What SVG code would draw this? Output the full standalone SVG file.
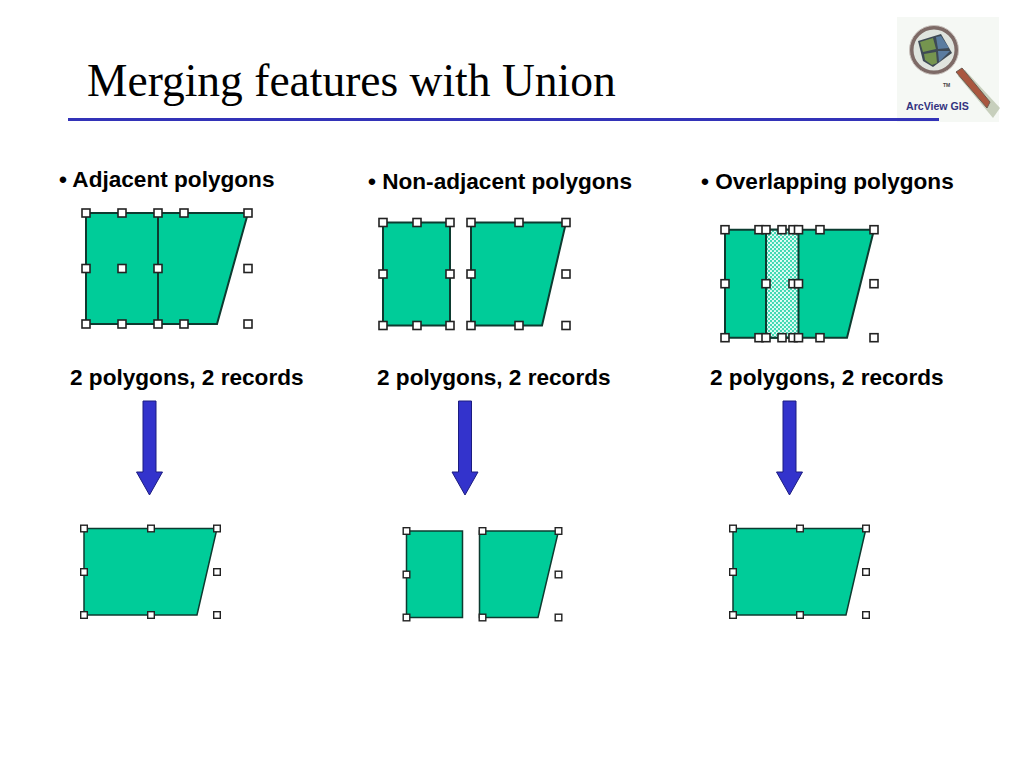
<svg xmlns="http://www.w3.org/2000/svg" width="1024" height="768" viewBox="0 0 1024 768">
<style>
.title{font:45.5px "Liberation Serif","Times New Roman",serif;fill:#000}
.lbl{font:bold 22.6px "Liberation Sans",Arial,sans-serif;fill:#000}
.poly{fill:#00cc99;stroke:#0d3b30;stroke-width:2;stroke-linejoin:miter}
.polyb{fill:#00cc99;stroke:#0d3b30;stroke-width:1.5}
.arrow{fill:#3333cc;stroke:#1c1c80;stroke-width:1}
.h{fill:#fff;stroke:#222;stroke-width:1.6}
.hs{fill:#fff;stroke:#222;stroke-width:1.4}
</style>
<defs>
<rect id="H" class="h" x="-4" y="-4" width="8" height="8"/>
<rect id="S" class="hs" x="-3.300" y="-3.300" width="6.600" height="6.600"/>
<pattern id="dots" width="4" height="4" patternUnits="userSpaceOnUse">
<rect width="4" height="4" fill="#40d9b3"/>
<circle cx="1" cy="1" r="1.100" fill="#f0fffa"/>
<circle cx="3" cy="3" r="1.100" fill="#f0fffa"/>
</pattern>
<path id="A" class="arrow" d="M-6.500 0H6.500V71H13L0 94L-13 71H-6.500Z"/>
</defs>
<g id="logo">
<rect x="897" y="17" width="102" height="105" fill="#f5f8f4"/>
<path d="M958 76L965 70L1000 108L993 118Z" fill="#b4bda4" opacity=".7"/>
<path d="M956 72L962 68L990 102L987 108Z" fill="#a9573f" stroke="#6d5a50" stroke-width="1"/>
<circle cx="934" cy="50" r="23" fill="#dfe4de"/>
<path d="M918 41L941 34L952 53L933 67L923 61Z" fill="#3e4a55"/>
<path d="M920 42L933 38L936 49L923 52Z" fill="#75954f"/>
<path d="M936 37L941 36L949 48L938 49Z" fill="#5a7ca0"/>
<path d="M924 54L936 52L937 63L932 65L925 60Z" fill="#75954f"/>
<path d="M938 51L950 51L939 62Z" fill="#5a7ca0"/>
<circle cx="934" cy="50" r="22.500" fill="none" stroke="#7d6a66" stroke-width="4"/>
<circle cx="934" cy="50" r="24.500" fill="none" stroke="#c9c2bd" stroke-width="1"/>
<text x="943" y="87" style="font:bold 5px 'Liberation Sans',sans-serif" fill="#444">TM</text>
<text x="906" y="110" style="font:bold 10.600px 'Liberation Sans',Arial,sans-serif" fill="#33337f">ArcView GIS</text>
</g>
<g id="title">
<text class="title" x="87" y="96">Merging features with Union</text>
<rect x="68" y="118" width="871" height="3" fill="#3333b8"/>
</g>
<g id="labels">
<text class="lbl" x="59" y="187">• Adjacent polygons</text>
<text class="lbl" x="368" y="189">• Non-adjacent polygons</text>
<text class="lbl" x="701" y="189">• Overlapping polygons</text>
<text class="lbl" x="70" y="385">2 polygons, 2 records</text>
<text class="lbl" x="377" y="385">2 polygons, 2 records</text>
<text class="lbl" x="710" y="385">2 polygons, 2 records</text>
</g>
<g id="connectors">
<use href="#A" x="149.500" y="401"/>
<use href="#A" x="465" y="401"/>
<use href="#A" x="789.500" y="401"/>
</g>
<g id="adjacent-before">
<path class="poly" d="M86 213H248L217 324H86Z"/>
<path class="poly" d="M158 213V324" fill="none"/>
<use href="#H" x="86" y="213"/><use href="#H" x="122" y="213"/><use href="#H" x="158" y="213"/><use href="#H" x="184" y="213"/><use href="#H" x="248" y="213"/>
<use href="#H" x="86" y="268.500"/><use href="#H" x="122" y="268.500"/><use href="#H" x="158" y="268.500"/><use href="#H" x="248" y="268.500"/>
<use href="#H" x="86" y="324"/><use href="#H" x="122" y="324"/><use href="#H" x="158" y="324"/><use href="#H" x="184" y="324"/><use href="#H" x="248" y="324"/>
</g>
<g id="nonadjacent-before">
<path class="poly" d="M383 222.500H450V325.500H383Z"/>
<path class="poly" d="M471 222.500H566L542 325.500H471Z"/>
<use href="#H" x="383" y="222.500"/><use href="#H" x="417" y="222.500"/><use href="#H" x="450" y="222.500"/><use href="#H" x="471" y="222.500"/><use href="#H" x="519" y="222.500"/><use href="#H" x="566" y="222.500"/>
<use href="#H" x="383" y="274"/><use href="#H" x="450" y="274"/><use href="#H" x="471" y="274"/><use href="#H" x="566" y="274"/>
<use href="#H" x="383" y="325.500"/><use href="#H" x="417" y="325.500"/><use href="#H" x="450" y="325.500"/><use href="#H" x="471" y="325.500"/><use href="#H" x="519" y="325.500"/><use href="#H" x="566" y="325.500"/>
</g>
<g id="overlapping-before">
<path class="poly" d="M725 229.700H874L847 337.700H725Z"/>
<rect x="766" y="229.700" width="32.500" height="108" fill="url(#dots)" stroke="#0d3b30" stroke-width="2"/>
<use href="#H" x="725" y="229.700"/><use href="#H" x="759" y="229.700"/><use href="#H" x="766" y="229.700"/><use href="#H" x="782" y="229.700"/><use href="#H" x="793" y="229.700"/><use href="#H" x="798.500" y="229.700"/><use href="#H" x="820" y="229.700"/><use href="#H" x="874" y="229.700"/>
<use href="#H" x="725" y="283.700"/><use href="#H" x="766" y="283.700"/><use href="#H" x="793" y="283.700"/><use href="#H" x="798.500" y="283.700"/><use href="#H" x="874" y="283.700"/>
<use href="#H" x="725" y="337.700"/><use href="#H" x="759" y="337.700"/><use href="#H" x="766" y="337.700"/><use href="#H" x="782" y="337.700"/><use href="#H" x="793" y="337.700"/><use href="#H" x="798.500" y="337.700"/><use href="#H" x="820" y="337.700"/><use href="#H" x="874" y="337.700"/>
</g>
<g id="adjacent-after">
<path class="polyb" d="M84 528.500H217L197 615H84Z"/>
<use href="#S" x="84" y="528.500"/><use href="#S" x="151" y="528.500"/><use href="#S" x="217" y="528.500"/>
<use href="#S" x="84" y="572"/><use href="#S" x="217" y="572"/>
<use href="#S" x="84" y="615"/><use href="#S" x="151" y="615"/><use href="#S" x="217" y="615"/>
</g>
<g id="nonadjacent-after">
<path class="polyb" d="M406.500 531H462.500V617.500H406.500Z"/>
<path class="polyb" d="M479.500 531H558.500L538 617.500H479.500Z"/>
<use href="#S" x="406.500" y="531"/><use href="#S" x="482.500" y="531"/><use href="#S" x="558.500" y="531"/>
<use href="#S" x="406.500" y="574.500"/><use href="#S" x="558.500" y="574.500"/>
<use href="#S" x="406.500" y="617.500"/><use href="#S" x="482.500" y="617.500"/><use href="#S" x="558.500" y="617.500"/>
</g>
<g id="overlapping-after">
<path class="polyb" d="M733 528.500H866L846 615H733Z"/>
<use href="#S" x="733" y="528.500"/><use href="#S" x="800" y="528.500"/><use href="#S" x="866" y="528.500"/>
<use href="#S" x="733" y="572"/><use href="#S" x="866" y="572"/>
<use href="#S" x="733" y="615"/><use href="#S" x="800" y="615"/><use href="#S" x="866" y="615"/>
</g>
</svg>
